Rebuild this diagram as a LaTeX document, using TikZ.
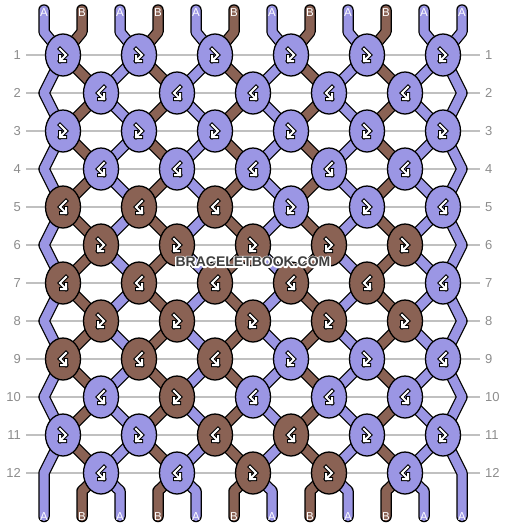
\documentclass[tikz,border=0pt]{standalone}
\usepackage{fontspec}
\setmainfont{Liberation Sans}
\usetikzlibrary{shapes.geometric}
\definecolor{colA}{HTML}{9B96E4}
\definecolor{colB}{HTML}{8A6254}
\definecolor{rowgray}{HTML}{C0C0C0}
\definecolor{numgray}{HTML}{8C8C8C}
\definecolor{wmgray}{HTML}{404040}
\pgfdeclarelayer{back}
\pgfdeclarelayer{strands}
\pgfdeclarelayer{front}
\pgfsetlayers{back,strands,main,front}
\newcommand\wmhalo[1]{\special{pdf:literal direct 1 Tr 2.8 w 1 1 1 RG 1 j}#1\special{pdf:literal direct 0 Tr 1 w 0 0 0 RG 0 j}}
\tikzset{
  knot/.style={ellipse, draw=black, line width=1.3pt, minimum width=35pt, minimum height=42pt, inner sep=0pt},
  strout/.style={line width=11.5pt, draw=black, line cap=round, line join=round},
  strin/.style={line width=9pt, line cap=round, line join=round},
  rowline/.style={draw=rowgray, line width=1.2pt},
  rownum/.style={text=numgray, font=\fontsize{13}{15}\selectfont, inner sep=0pt},
  endlab/.style={text=white, font=\fontsize{11.5}{13}\selectfont, inner sep=0pt},
  wm/.style={font=\fontsize{14}{16}\selectfont\bfseries, inner sep=0pt},
  iconout/.style={draw=black, line width=4pt, line cap=rect, line join=miter},
  iconin/.style={draw=white, line width=2pt, line cap=rect, line join=miter},
  pics/fb/.style={code={
    \draw[iconout] (-3,-6)--(3,0)--(-3,6) (-3,1)--(-3,6)--(2,6);
    \draw[iconin] (-3,-6)--(3,0)--(-3,6) (-3,1)--(-3,6)--(2,6);}},
  pics/bf/.style={code={
    \draw[iconout] (3,-6)--(-3,0)--(3,6) (3,1)--(3,6)--(-2,6);
    \draw[iconin] (3,-6)--(-3,0)--(3,6) (3,1)--(3,6)--(-2,6);}},
}
\begin{document}
\begin{tikzpicture}[x=1pt,y=-1pt]
\useasboundingbox (0,0) rectangle (506,528);
% row lines and numbers
\foreach \r in {1,...,12} {
  \pgfmathsetmacro\yy{55+38*(\r-1)}
  \node[rownum, anchor=east] (nl\r) at (21,\yy) {\r};
  \node[rownum, anchor=west] (nr\r) at (485,\yy) {\r};
  \coordinate (gl\r) at (26,\yy);
  \coordinate (gr\r) at (480,\yy);
  \begin{pgfonlayer}{back}
    \draw[rowline] (gl\r) -- (gr\r);
  \end{pgfonlayer}
  \pgfmathtruncatemacro\odd{mod(\r,2)}
  \ifnum\odd=0
    \coordinate (p\r-0) at (44,\yy);
    \coordinate (p\r-11) at (462,\yy);
  \fi
}
% string ends
\foreach \i/\lab in {0/A,1/B,2/A,3/B,4/A,5/B,6/A,7/B,8/A,9/B,10/A,11/A} {
  \pgfmathsetmacro\hx{44+38*\i}
  \coordinate (t\i) at (\hx,10);
  \coordinate (tb\i) at (\hx,32);
  \coordinate (bb\i) at (\hx,491);
  \coordinate (b\i) at (\hx,516.5);
  \node[endlab] (lt\i) at (\hx,12.5) {\lab};
  \node[endlab] (lb\i) at (\hx,516.5) {\lab};
}
% knots
\foreach \r/\lst in {
  1/{A/fb,A/fb,A/fb,A/fb,A/fb,A/fb},
  2/{A/bf,A/bf,A/bf,A/bf,A/bf},
  3/{A/fb,A/fb,A/fb,A/fb,A/fb,A/fb},
  4/{A/bf,A/bf,A/bf,A/bf,A/bf},
  5/{B/bf,B/bf,B/bf,A/fb,A/fb,A/bf},
  6/{B/fb,B/fb,B/fb,B/fb,B/fb},
  7/{B/bf,B/bf,B/bf,B/bf,B/bf,A/bf},
  8/{B/fb,B/fb,B/fb,B/fb,B/fb},
  9/{B/bf,B/bf,B/bf,A/fb,A/fb,A/bf},
  10/{A/bf,B/fb,A/bf,A/bf,A/bf},
  11/{A/fb,A/fb,B/bf,B/bf,A/fb,A/fb},
  12/{A/bf,A/bf,B/fb,B/fb,A/bf}} {
  \pgfmathtruncatemacro\odd{mod(\r,2)}
  \pgfmathsetmacro\yy{55+38*(\r-1)}
  \foreach \col/\ic [count=\c from 0] in \lst {
    \pgfmathsetmacro\xx{\odd==1 ? 63+76*\c : 101+76*\c}
    \pgfmathtruncatemacro\sa{\odd==1 ? 2*\c : 2*\c+1}
    \pgfmathtruncatemacro\sb{\sa+1}
    \node[knot, fill=col\col, alias=p\r-\sa, alias=p\r-\sb] (k\r-\c) at (\xx,\yy) {};
    \pic at (k\r-\c.center) {\ic};
  }
}
% strings
\begin{pgfonlayer}{strands}
\foreach \i in {0,...,11} {
  \draw[strout] (t\i) -- (tb\i) \foreach \r in {1,...,12} { -- (p\r-\i.center) } -- (bb\i) -- (b\i);
}
\foreach \i/\c in {0/colA,1/colB,2/colA,3/colB,4/colA,5/colB,6/colA,7/colB,8/colA,9/colB,10/colA,11/colA} {
  \draw[strin, draw=\c] (t\i) -- (tb\i) \foreach \r in {1,...,12} { -- (p\r-\i.center) } -- (bb\i) -- (b\i);
}
\end{pgfonlayer}
% watermark
\begin{pgfonlayer}{front}
\node[wm, text=white] (wmh) at (253,262) {\wmhalo{BRACELETBOOK.COM}};
\node[wm, text=wmgray] (wm) at (253,262) {BRACELETBOOK.COM};
\end{pgfonlayer}
\end{tikzpicture}
\end{document}
